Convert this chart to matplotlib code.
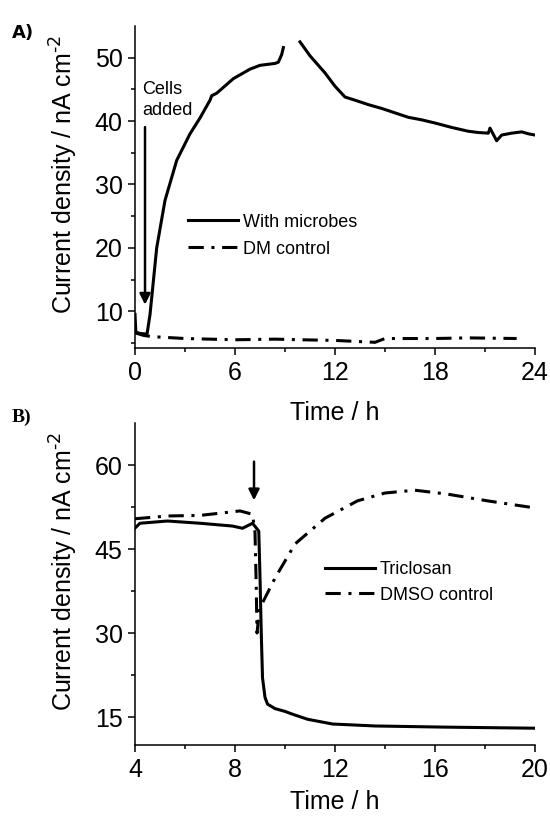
import numpy as np
import matplotlib.pyplot as plt

plt.rcParams['font.family'] = ['Liberation Sans', 'DejaVu Sans']

# Panel A: current density vs time (with microbes has a gap around 9-10 h)
time_a1 = [0, 0.05, 0.3, 0.72, 0.9, 1.3, 1.8, 2.5, 3.3, 3.9, 4.5, 4.6, 4.9,
           5.9, 6.9, 7.5, 8.4, 8.6, 8.8, 8.9]
microbes_a1 = [9.5, 6.7, 6.5, 6.4, 9.5, 20.0, 27.5, 33.8, 38.0, 40.5, 43.3,
               44.0, 44.4, 46.7, 48.2, 48.8, 49.1, 49.3, 50.5, 51.6]
time_a2 = [9.9, 10.5, 11.4, 12.0, 12.6, 13.2, 14.0, 14.8, 15.6, 16.4, 17.2,
           18.0, 19.0, 20.0, 20.6, 21.2, 21.3, 21.7, 22.0, 22.6, 23.2, 23.6, 24.0]
microbes_a2 = [52.5, 50.3, 47.6, 45.5, 43.8, 43.3, 42.6, 42.0, 41.3, 40.6,
               40.2, 39.7, 39.0, 38.4, 38.2, 38.1, 38.9, 36.9, 37.8, 38.1,
               38.3, 38.0, 37.8]
time_dm = [0, 0.5, 1, 3, 6, 8.4, 10, 12, 14.4, 15, 18, 20, 22.9]
dm_control = [6.6, 6.2, 6.0, 5.7, 5.5, 5.6, 5.5, 5.4, 5.1, 5.7, 5.7, 5.8, 5.7]

# Panel B: triclosan vs DMSO control
time_tri = [4, 4.2, 5.3, 6.6, 7.9, 8.3, 8.7, 8.95, 9.0, 9.05, 9.1, 9.2, 9.3,
            9.6, 10.0, 10.3, 10.9, 11.9, 13.6, 16.3, 20]
triclosan = [48.75, 49.6, 50.0, 49.6, 49.1, 48.7, 49.6, 48.2, 40.0, 30.0,
             22.0, 18.5, 17.3, 16.5, 16.0, 15.5, 14.6, 13.75, 13.4, 13.2, 13.0]
time_dmso = [4, 5.3, 6.6, 8.2, 8.7, 8.8, 8.85, 8.88, 8.95, 9.0, 9.6, 10.4,
             11.6, 12.9, 14, 15.2, 16.5, 18.1, 19.9]
dmso = [50.4, 50.9, 51.0, 51.8, 51.2, 48.0, 38.0, 30.0, 33.0, 34.5, 39.8,
        45.9, 50.5, 53.6, 55.0, 55.5, 54.8, 53.6, 52.4]

dashdot = (0, (5, 2.5, 1, 2.5))
lw = 2.2
fs = 18

fig = plt.figure(figsize=(5.5, 8.16), dpi=100)
axA = fig.add_axes([0.2455, 0.5735, 0.7272, 0.3946])
axB = fig.add_axes([0.2455, 0.0870, 0.7272, 0.3946])


def style_axis(ax, xpad):
    for s in ['top', 'right']:
        ax.spines[s].set_visible(False)
    for s in ['left', 'bottom']:
        ax.spines[s].set_linewidth(1.1)
    ax.tick_params(which='major', direction='out', length=5, width=1.1,
                   labelsize=fs, pad=4)
    ax.tick_params(which='minor', direction='out', length=3, width=1.1)
    ax.set_xlabel('Time / h', fontsize=fs, labelpad=xpad)
    ax.set_ylabel('Current density / nA cm$^{\\text{-2}}$', fontsize=fs)
    ax.yaxis.set_label_coords(-0.1375, 0.54)


# ---- Panel A ----
axA.plot(time_a1, microbes_a1, color='k', lw=lw, label='With microbes')
axA.plot(time_a2, microbes_a2, color='k', lw=lw)
axA.plot(time_dm, dm_control, color='k', lw=lw, linestyle=dashdot, label='DM control')
axA.set_xlim(0, 24)
axA.set_ylim(4.2, 55)
axA.set_xticks([0, 6, 12, 18, 24])
axA.set_xticks([3, 9, 15, 21], minor=True)
axA.set_yticks([10, 20, 30, 40, 50])
axA.set_yticks([5, 15, 25, 35, 45], minor=True)
style_axis(axA, 12)
axA.annotate('', xy=(0.6, 10.6), xytext=(0.6, 39.5),
             arrowprops=dict(arrowstyle='-|>', lw=1.8, color='k', mutation_scale=16))
axA.text(0.42, 43.3, 'Cells\nadded', fontsize=13, ha='left', va='center', linespacing=1.3)
axA.legend(loc='upper left', bbox_to_anchor=(0.342, 0.738), bbox_transform=fig.transFigure,
           frameon=False, fontsize=13, handlelength=2.75, handletextpad=0.3,
           borderpad=0, borderaxespad=0, labelspacing=0.55)

# ---- Panel B ----
axB.plot(time_tri, triclosan, color='k', lw=lw, label='Triclosan')
axB.plot(time_dmso, dmso, color='k', lw=lw, linestyle=dashdot, label='DMSO control')
axB.set_xlim(4, 20)
axB.set_ylim(10, 67.5)
axB.set_xticks([4, 8, 12, 16, 20])
axB.set_xticks([6, 10, 14, 18], minor=True)
axB.set_yticks([15, 30, 45, 60])
axB.set_yticks([22.5, 37.5, 52.5], minor=True)
style_axis(axB, 6)
axB.annotate('', xy=(8.76, 53.2), xytext=(8.76, 61.1),
             arrowprops=dict(arrowstyle='-|>', lw=1.8, color='k', mutation_scale=16))
axB.legend(loc='upper left', bbox_to_anchor=(0.591, 0.312), bbox_transform=fig.transFigure,
           frameon=False, fontsize=13, handlelength=2.75, handletextpad=0.3,
           borderpad=0, borderaxespad=0, labelspacing=0.45)

fig.text(0.022, 0.96, 'A)', fontsize=13, fontweight='bold', ha='left', va='center',
         family='DejaVu Sans')
fig.text(0.022, 0.488, 'B)', fontsize=14, fontweight='bold', ha='left', va='center',
         family='Liberation Serif')

fig.savefig('out.png', dpi=100)
